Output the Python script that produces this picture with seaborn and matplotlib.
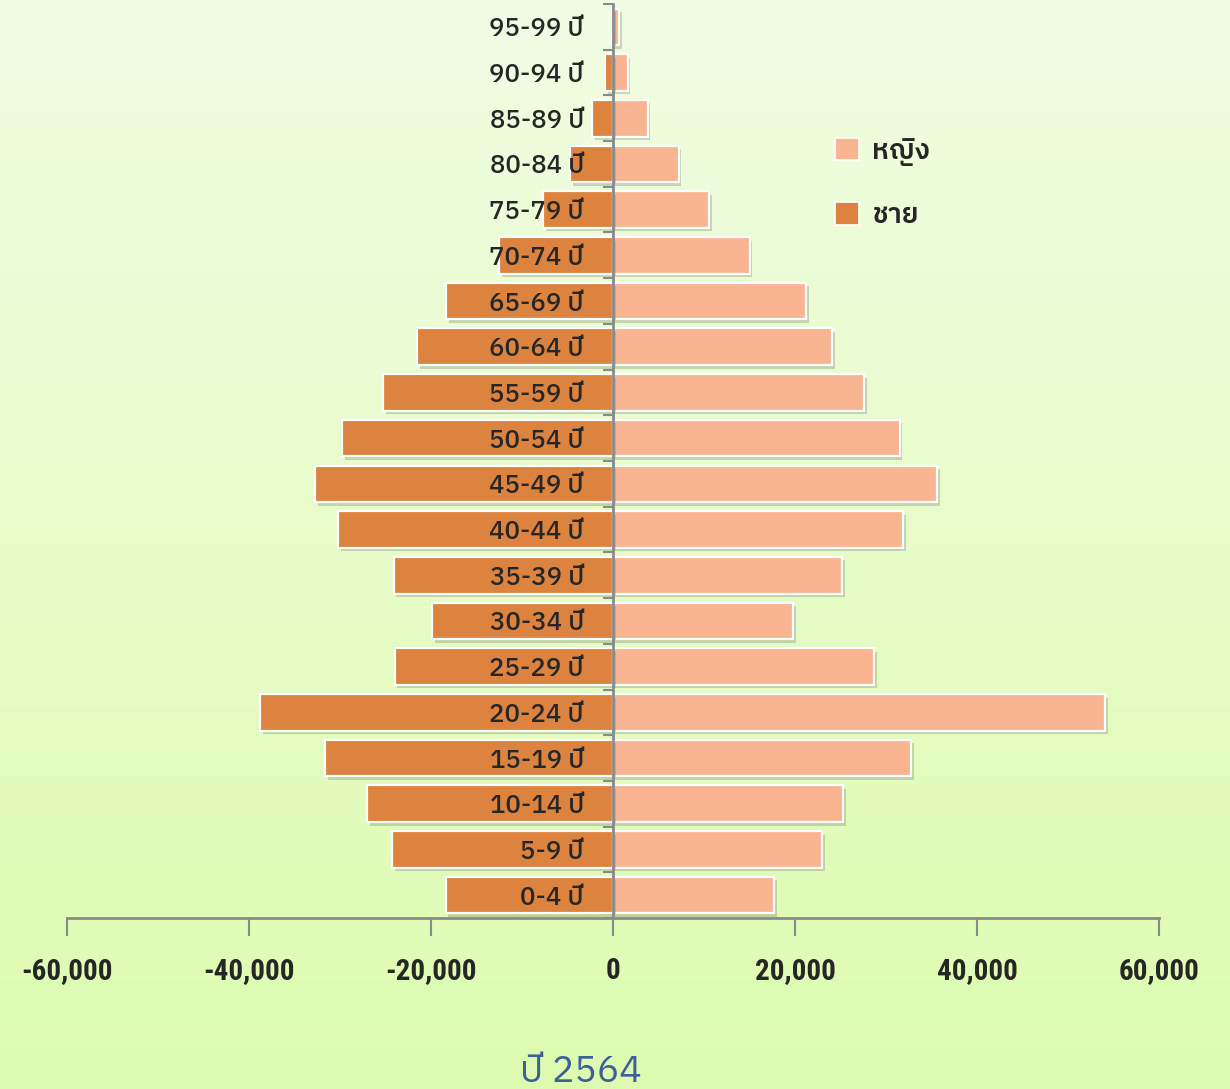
import matplotlib
matplotlib.use("Agg")
import numpy as np
import pandas as pd
import matplotlib.pyplot as plt
import matplotlib.patheffects as pe
from matplotlib import font_manager as fm
from matplotlib.patches import Patch
from matplotlib.colors import LinearSegmentedColormap
import seaborn as sns

# Population by five-year age group, year 2564 (B.E.)
age_groups = ["0-4 ปี", "5-9 ปี", "10-14 ปี", "15-19 ปี", "20-24 ปี", "25-29 ปี",
              "30-34 ปี", "35-39 ปี", "40-44 ปี", "45-49 ปี", "50-54 ปี", "55-59 ปี",
              "60-64 ปี", "65-69 ปี", "70-74 ปี", "75-79 ปี", "80-84 ปี", "85-89 ปี",
              "90-94 ปี", "95-99 ปี"]
male = [18400, 24300, 27000, 31600, 38800, 24000, 19900, 24100, 30200, 32700,
        29800, 25300, 21500, 18300, 12500, 7700, 4700, 2300, 900, 150]
female = [17700, 23000, 25300, 32800, 54100, 28700, 19800, 25200, 31900, 35600,
          31500, 27600, 24100, 21200, 15000, 10600, 7200, 3800, 1600, 700]
x_ticks = [-60000, -40000, -20000, 0, 20000, 40000, 60000]
label_female = "หญิง"
label_male = "ชาย"
title = "ปี 2564"

C_MALE = "#DB833F"
C_FEMALE = "#F9B591"
C_AXIS = "#8A8A8A"


def pick(cands):
    avail = {f.name for f in fm.fontManager.ttflist}
    return [c for c in cands if c in avail] + ["DejaVu Sans"]


thai_font = pick(["IBM Plex Sans Thai", "Noto Sans Thai", "Sarabun", "Bai Jamjuree"])
cond_font = pick(["Roboto Condensed", "Fira Sans Condensed", "IBM Plex Sans Condensed",
                  "Archivo Narrow"])

sns.set_style("ticks")
plt.rcParams["font.family"] = thai_font

df = pd.DataFrame({
    "age": age_groups * 2,
    "pop": [-v for v in male] + female,
    "sex": [label_male] * len(male) + [label_female] * len(female),
})

fig = plt.figure(figsize=(12.3, 10.89), dpi=100)

# soft vertical green gradient behind everything
bg = fig.add_axes([0, 0, 1, 1], zorder=-10)
grad = LinearSegmentedColormap.from_list("bg", ["#F1FDE3", "#DDFBAF"])
bg.imshow(np.linspace(0, 1, 256)[:, None], aspect="auto", cmap=grad,
          extent=[0, 1, 0, 1])
bg.set_axis_off()

ax = fig.add_axes([67 / 1230, 1 - 918 / 1089, 1092 / 1230, 914 / 1089])
ax.patch.set_alpha(0)

sns.barplot(data=df, x="pop", y="age", hue="sex", order=age_groups[::-1],
            hue_order=[label_female, label_male],
            palette={label_female: C_FEMALE, label_male: C_MALE}, saturation=1,
            dodge=False, width=0.8, orient="h", edgecolor="white",
            linewidth=1.6, legend=False, ax=ax)

for p in ax.patches:
    p.set_path_effects([pe.SimplePatchShadow(offset=(2, -2.5), shadow_rgbFace="#7A8A70",
                                             alpha=0.35), pe.Normal()])

ax.set_axisbelow(False)
ax.set_xlim(-60000, 60000)
ax.set_ylim(19.5, -0.5)
ax.set_xlabel("")
ax.set_ylabel("")

for s in ("top", "right"):
    ax.spines[s].set_visible(False)
ax.spines["left"].set_position(("data", 0))
for s in ("left", "bottom"):
    ax.spines[s].set_color(C_AXIS)
    ax.spines[s].set_linewidth(2)
    ax.spines[s].set_zorder(5)

ax.set_xticks(x_ticks)
ax.set_xticklabels([f"{v:,}" for v in x_ticks], fontfamily=cond_font,
                   fontweight="bold", fontsize=21)
ax.tick_params(axis="x", length=13, width=1.5, color=C_AXIS, pad=15)

ax.set_yticks(range(len(age_groups)))
ax.set_yticklabels(age_groups[::-1], fontsize=18.5, fontweight="medium")
ax.tick_params(axis="y", which="major", length=0, pad=21)
ax.set_yticks(np.arange(-0.5, len(age_groups), 1), minor=True)
ax.tick_params(axis="y", which="minor", length=7, width=1.5, color=C_AXIS,
               direction="out")
for t in ax.get_yticklabels():
    t.set_zorder(6)

handles = [Patch(facecolor=C_FEMALE, edgecolor="white", linewidth=1.2),
           Patch(facecolor=C_MALE, edgecolor="white", linewidth=1.2)]
ax.legend(handles, [label_female, label_male], loc="upper left",
          bbox_to_anchor=(810 / 1230, 1 - 113 / 1089), bbox_transform=fig.transFigure,
          frameon=False, handlelength=0.85, handleheight=0.85, labelspacing=1.3,
          handletextpad=0.5, prop={"family": thai_font, "size": 20, "weight": "semibold"})

fig.text(581 / 1230, -0.001, title, color="#3D5F9A", fontsize=27, ha="center",
         va="bottom", fontfamily=thai_font)

fig.savefig("out.png", dpi=100)
